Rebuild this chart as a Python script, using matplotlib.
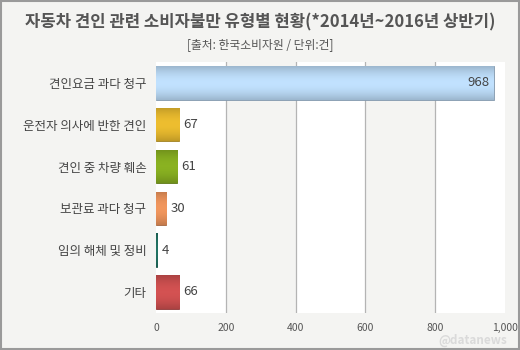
import numpy as np
import matplotlib.pyplot as plt
from matplotlib.patches import Rectangle
from matplotlib.colors import to_rgb

plt.rcParams['font.family'] = ['Noto Sans CJK KR', 'DejaVu Sans']

categories = ['견인요금 과다 청구', '운전자 의사에 반한 견인', '견인 중 차량 훼손',
              '보관료 과다 청구', '임의 해체 및 정비', '기타']
counts = [968, 67, 61, 30, 4, 66]
bar_colors = ['#b3d1ec', '#dcb02c', '#80a51f', '#e08c57', '#1f6b5c', '#c44c4c']
xticks = [0, 200, 400, 600, 800, 1000]
xtick_labels = ['0', '200', '400', '600', '800', '1,000']

fig = plt.figure(figsize=(5.2, 3.5), dpi=100)
fig.patch.set_facecolor('#f4f4f2')
fig.patches.append(Rectangle((0.002, 0.003), 0.996, 0.994, transform=fig.transFigure,
                             fill=False, edgecolor='#9a9a9a', linewidth=1.5))

ax = fig.add_axes([0.3, 0.106, 0.671, 0.717])
ax.set_facecolor('#f4f4f2')

# alternating white / grey bands between grid lines
for i in range(0, len(xticks) - 1, 2):
    ax.axvspan(xticks[i], xticks[i + 1], color='white', zorder=0, lw=0)
for x in xticks[1:-1]:
    ax.axvline(x, color='#b4b4b4', lw=0.9, zorder=1)

y = np.arange(len(categories))
bars = ax.barh(y, counts, height=0.8, color=bar_colors, zorder=2,
               edgecolor='none')

# vertical shading on each bar: darker rim, lighter middle
grad = np.linspace(0, 1, 64).reshape(-1, 1)
for bar, c in zip(bars, bar_colors):
    base = np.array(to_rgb(c))
    shade = 0.78 + 0.3 * np.sin(np.pi * (0.1 + 0.8 * grad))
    img = np.clip(base[None, None, :] * shade[:, :, None], 0, 1)
    x0, y0 = bar.get_x(), bar.get_y()
    w, h = bar.get_width(), bar.get_height()
    im = ax.imshow(img, extent=(x0, x0 + w, y0 + h, y0), aspect='auto',
                   zorder=3, interpolation='bicubic')
    im.set_clip_path(bar)
    bar.set_edgecolor(tuple(base * 0.72))
    bar.set_linewidth(0.6)
ax.set_xlim(0, 1000)
ax.set_ylim(len(categories) - 0.5, -0.5)

for yi, v in zip(y, counts):
    if v > 800:
        ax.text(v - 12, yi, f'{v}', ha='right', va='center', fontsize=9.5,
                color='#444444', zorder=4)
    else:
        ax.text(v + 12, yi, f'{v}', ha='left', va='center', fontsize=9.5,
                color='#444444', zorder=4)

ax.set_yticks(y)
ax.set_yticklabels(categories, fontsize=9, color='#444444')
ax.set_xticks(xticks)
ax.set_xticklabels(xtick_labels, fontsize=7.5, color='#555555')
ax.tick_params(axis='y', length=0, pad=7)
ax.tick_params(axis='x', length=0, pad=7)
for s in ax.spines.values():
    s.set_visible(False)

fig.text(0.5, 0.935, '자동차 견인 관련 소비자불만 유형별 현황(*2014년~2016년 상반기)',
         ha='center', va='center', fontsize=12, fontweight='bold', color='#555555')
fig.text(0.5, 0.874, '[출처: 한국소비자원 / 단위:건]', ha='center', va='center',
         fontsize=8.5, color='#555555')
fig.text(0.975, 0.028, '@datanews', ha='right', va='center', fontsize=8.5,
         color='#dadada', fontweight='bold')

fig.savefig('out.png', dpi=100, facecolor=fig.get_facecolor())
